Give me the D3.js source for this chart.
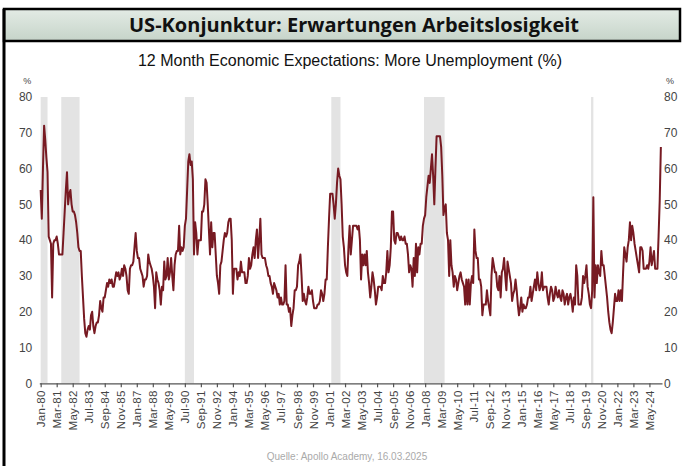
<!DOCTYPE html>
<html>
<head>
<meta charset="utf-8">
<script src="https://cdn.jsdelivr.net/npm/d3@7"></script>
<style>
  body { margin: 0; background: #fff; }
  svg { display: block; }
  .tick text { font-family: "Liberation Sans", Arial, sans-serif; fill: #444; }
</style>
</head>
<body>
<div id="chart-container"></div>
<script>
// monthly values, Jan-1980 .. Mar-2025 (one row per year)
let firstMonth = 'Jan-80';
let moreUnemployment = [
    54, 46, 60, 72, 68, 63, 59, 41, 40, 39, 24, 39,
    40, 40, 41, 39, 36, 36, 36, 36, 42, 48, 54, 59,
    50, 53, 54, 50, 48, 48, 47, 45, 42, 38, 37, 37,
    30, 24, 18, 14, 13, 15, 16, 15, 19, 20, 16, 14,
    16, 17, 17, 19, 23, 21, 20, 24, 24, 26, 28, 27,
    29, 28, 29, 27, 27, 29, 31, 30, 31, 29, 30, 32,
    30, 33, 32, 30, 26, 25, 32, 33, 33, 34, 38, 42,
    37, 35, 35, 32, 31, 30, 27, 29, 29, 30, 36, 34,
    33, 32, 30, 27, 21, 31, 29, 28, 26, 22, 27, 26,
    34, 29, 30, 35, 29, 31, 35, 30, 26, 33, 36, 37,
    37, 44, 36, 38, 37, 38, 44, 46, 54, 62, 64, 61,
    62, 57, 36, 45, 42, 36, 40, 40, 40, 48, 48, 50,
    57, 56, 50, 43, 36, 45, 38, 42, 42, 36, 30, 28,
    25, 33, 34, 37, 40, 42, 41, 42, 45, 46, 46, 40,
    25, 32, 32, 32, 29, 31, 30, 34, 31, 31, 31, 28,
    28, 30, 35, 32, 33, 36, 38, 35, 40, 43, 35, 40,
    46, 36, 35, 35, 35, 33, 32, 30, 30, 28, 27, 25,
    28, 27, 26, 24, 25, 22, 24, 22, 22, 23, 33, 22,
    22, 20, 21, 16, 19, 21, 26, 26, 27, 33, 34, 36,
    30, 23, 25, 23, 22, 24, 27, 25, 25, 26, 23, 21,
    21, 21, 22, 22, 23, 26, 25, 23, 25, 29, 29, 38,
    46, 53, 53, 53, 50, 46, 50, 56, 60, 58, 57, 50,
    41, 38, 33, 31, 30, 38, 44, 36, 40, 44, 44, 44,
    44, 43, 44, 40, 29, 36, 33, 36, 33, 37, 31, 28,
    24, 27, 31, 29, 26, 22, 24, 27, 27, 27, 26, 30,
    28, 28, 31, 37, 31, 33, 38, 48, 48, 40, 39, 42,
    42, 41, 40, 41, 40, 40, 41, 39, 39, 36, 31, 33,
    32, 27, 35, 30, 39, 31, 38, 36, 39, 39, 44, 46,
    47, 52, 55, 58, 56, 60, 64, 58, 50, 60, 69, 69,
    69, 69, 66, 58, 47, 49, 50, 42, 40, 30, 40, 33,
    31, 27, 30, 29, 26, 28, 30, 31, 29, 28, 27, 22,
    29, 22, 29, 22, 28, 30, 28, 43, 37, 35, 35, 29,
    29, 27, 19, 22, 22, 22, 26, 23, 21, 19, 30, 35,
    33, 31, 31, 27, 26, 30, 24, 31, 32, 35, 30, 26,
    34, 32, 30, 28, 23, 25, 26, 29, 26, 22, 19, 21,
    24, 20, 22, 21, 21, 22, 24, 24, 27, 23, 25, 27,
    29, 26, 31, 28, 26, 27, 31, 26, 27, 27, 27, 24,
    22, 25, 27, 26, 23, 24, 27, 25, 24, 26, 24, 23,
    26, 25, 22, 24, 25, 22, 24, 25, 23, 20, 24, 22,
    33, 30, 22, 22, 22, 24, 30, 28, 30, 33, 27, 25,
    22, 21, 26, 52, 24, 33, 28, 33, 31, 30, 37, 33,
    33, 30, 27, 24, 20, 17, 15, 14, 17, 21, 25, 23,
    23, 26, 23, 26, 23, 31, 38, 36, 34, 38, 40, 45,
    40, 44, 42, 39, 37, 35, 33, 31, 38, 38, 37, 32,
    32, 32, 33, 32, 34, 38, 33, 35, 37, 32, 32, 32,
    41, 51, 66
];

// x axis labels, every 14 months
let tickLabels = ['Jan-80', 'Mar-81', 'May-82', 'Jul-83', 'Sep-84', 'Nov-85', 'Jan-87', 'Mar-88',
    'May-89', 'Jul-90', 'Sep-91', 'Nov-92', 'Jan-94', 'Mar-95', 'May-96', 'Jul-97', 'Sep-98',
    'Nov-99', 'Jan-01', 'Mar-02', 'May-03', 'Jul-04', 'Sep-05', 'Nov-06', 'Jan-08', 'Mar-09',
    'May-10', 'Jul-11', 'Sep-12', 'Nov-13', 'Jan-15', 'Mar-16', 'May-17', 'Jul-18', 'Sep-19',
    'Nov-20', 'Jan-22', 'Mar-23', 'May-24'];

let yTicks = [0, 10, 20, 30, 40, 50, 60, 70, 80];

// NBER recessions (start, end)
let recessionStarts = ['Jan-80', 'Jul-81', 'Jul-90', 'Mar-01', 'Dec-07', 'Feb-20'];
let recessionEnds = ['Jul-80', 'Nov-82', 'Mar-91', 'Nov-01', 'Jun-09', 'Apr-20'];

let title = 'US-Konjunktur: Erwartungen Arbeitslosigkeit';
let subtitle = '12 Month Economic Expectations: More Unemployment (%)';
let source = 'Quelle: Apollo Academy, 16.03.2025';

let W = 684, H = 466;
let margin = {top: 97, right: 22, bottom: 83, left: 39.3};
let lineColor = '#771a22';

let parseMonth = d3.timeParse('%b-%y');
let start = parseMonth(firstMonth);
function monthIndex(label) {
    return d3.timeMonth.count(start, parseMonth(label));
}

let svg = d3.select('#chart-container').append('svg')
    .attr('width', W)
    .attr('height', H);

// title bar
let grad = svg.append('defs').append('linearGradient')
    .attr('id', 'titleGrad')
    .attr('x1', 0).attr('y1', 0).attr('x2', 0).attr('y2', 1);
grad.append('stop').attr('offset', '0%').attr('stop-color', '#e3ebe5');
grad.append('stop').attr('offset', '100%').attr('stop-color', '#c6d4c9');

svg.append('rect')
    .attr('x', 4).attr('y', 9)
    .attr('width', 676).attr('height', 32)
    .attr('fill', 'url(#titleGrad)')
    .attr('stroke', '#000')
    .attr('stroke-width', 2.5);

// left frame line
svg.append('line')
    .attr('x1', 4).attr('x2', 4)
    .attr('y1', 9).attr('y2', H)
    .attr('stroke', '#000')
    .attr('stroke-width', 3);

svg.append('text')
    .attr('x', 354)
    .attr('y', 32)
    .attr('text-anchor', 'middle')
    .attr('font-family', '"Open Sans", sans-serif')
    .attr('font-weight', 700)
    .attr('font-size', 20)
    .attr('textLength', 450)
    .attr('lengthAdjust', 'spacingAndGlyphs')
    .attr('fill', '#111')
    .text(title);

svg.append('text')
    .attr('x', 350)
    .attr('y', 66)
    .attr('text-anchor', 'middle')
    .attr('font-family', '"Liberation Sans", Arial, sans-serif')
    .attr('font-size', 16)
    .attr('fill', '#111')
    .text(subtitle);

let width = W - margin.left - margin.right;
let height = 383.3 - margin.top;

let x = d3.scaleLinear()
    .domain([-1.2, moreUnemployment.length])
    .range([0, width]);

let y = d3.scaleLinear()
    .domain([0, 80])
    .range([height, 0]);

let g = svg.append('g')
    .attr('transform', 'translate(' + margin.left + ',' + margin.top + ')');

// recession shading
g.selectAll('rect.recession')
    .data(recessionStarts)
    .enter().append('rect')
    .attr('class', 'recession')
    .attr('x', function(d) { return x(monthIndex(d)); })
    .attr('width', function(d, i) { return Math.max(2, x(monthIndex(recessionEnds[i])) - x(monthIndex(d))); })
    .attr('y', y(80))
    .attr('height', y(0) - y(80))
    .attr('fill', '#e3e3e3');

// x axis
let xAxis = d3.axisBottom(x)
    .tickValues(tickLabels.map(monthIndex))
    .tickFormat(function(d, i) { return tickLabels[i]; })
    .tickSizeInner(4)
    .tickSizeOuter(0);

let xg = g.append('g')
    .attr('transform', 'translate(0,' + height + ')')
    .call(xAxis);
xg.select('.domain').attr('stroke', '#555').attr('stroke-width', 1.2);
xg.selectAll('.tick line').attr('stroke', '#555').attr('stroke-width', 1.2);
xg.selectAll('.tick text')
    .attr('font-size', 11.5)
    .attr('letter-spacing', 0.3)
    .attr('transform', 'rotate(-90)')
    .attr('text-anchor', 'end')
    .attr('x', -7)
    .attr('y', 0)
    .attr('dy', '0.35em');

// y axis labels, left and right
g.selectAll('text.yl')
    .data(yTicks)
    .enter().append('text')
    .attr('class', 'yl')
    .attr('x', -7)
    .attr('y', function(d) { return y(d); })
    .attr('dy', '0.35em')
    .attr('text-anchor', 'end')
    .attr('font-family', '"Liberation Sans", Arial, sans-serif')
    .attr('font-size', 12)
    .attr('fill', '#444')
    .text(function(d) { return d; });

g.selectAll('text.yr')
    .data(yTicks)
    .enter().append('text')
    .attr('class', 'yr')
    .attr('x', width + 2)
    .attr('y', function(d) { return y(d); })
    .attr('dy', '0.35em')
    .attr('font-family', '"Liberation Sans", Arial, sans-serif')
    .attr('font-size', 12)
    .attr('fill', '#444')
    .text(function(d) { return d; });

g.append('text')
    .attr('x', -16).attr('y', -13)
    .attr('font-family', '"Liberation Sans", Arial, sans-serif')
    .attr('font-size', 9)
    .attr('fill', '#444')
    .text('%');
g.append('text')
    .attr('x', width + 4).attr('y', -13)
    .attr('font-family', '"Liberation Sans", Arial, sans-serif')
    .attr('font-size', 9)
    .attr('fill', '#444')
    .text('%');

// the series
let line = d3.line()
    .x(function(d, i) { return x(i); })
    .y(function(d) { return y(d); });

g.append('path')
    .datum(moreUnemployment)
    .attr('d', line)
    .attr('fill', 'none')
    .attr('stroke', lineColor)
    .attr('stroke-width', 2)
    .attr('stroke-linejoin', 'round');

svg.append('text')
    .attr('x', 347)
    .attr('y', 460)
    .attr('text-anchor', 'middle')
    .attr('font-family', '"Liberation Sans", Arial, sans-serif')
    .attr('font-size', 10)
    .attr('fill', '#aaa')
    .text(source);
</script>
</body>
</html>
